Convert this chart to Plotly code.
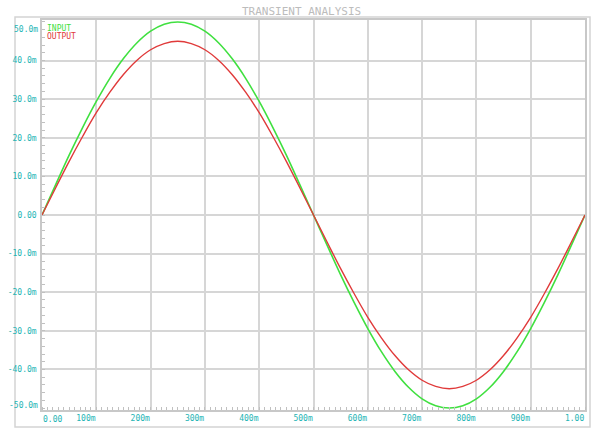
import plotly.graph_objects as go

# ---- data (time in s, voltages in mV) ----
time_s = [0.000, 0.025, 0.050, 0.075, 0.100, 0.125, 0.150, 0.175, 0.200, 0.225,
          0.250, 0.275, 0.300, 0.325, 0.350, 0.375, 0.400, 0.425, 0.450, 0.475,
          0.500, 0.525, 0.550, 0.575, 0.600, 0.625, 0.650, 0.675, 0.700, 0.725,
          0.750, 0.775, 0.800, 0.825, 0.850, 0.875, 0.900, 0.925, 0.950, 0.975, 1.000]
input_mv = [0.0, 7.8, 15.5, 22.7, 29.4, 35.4, 40.5, 44.6, 47.6, 49.4,
            50.0, 49.4, 47.6, 44.6, 40.5, 35.4, 29.4, 22.7, 15.5, 7.8,
            0.0, -7.8, -15.5, -22.7, -29.4, -35.4, -40.5, -44.6, -47.6, -49.4,
            -50.0, -49.4, -47.6, -44.6, -40.5, -35.4, -29.4, -22.7, -15.5, -7.8, 0.0]
output_mv = [0.0, 7.0, 13.9, 20.4, 26.5, 31.8, 36.4, 40.1, 42.8, 44.4,
             45.0, 44.4, 42.8, 40.1, 36.4, 31.8, 26.5, 20.4, 13.9, 7.0,
             0.0, -7.0, -13.9, -20.4, -26.5, -31.8, -36.4, -40.1, -42.8, -44.4,
             -45.0, -44.4, -42.8, -40.1, -36.4, -31.8, -26.5, -20.4, -13.9, -7.0, 0.0]

x_tick_vals = [0.1, 0.2, 0.3, 0.4, 0.5, 0.6, 0.7, 0.8, 0.9, 1.0]
x_tick_text = ["100m", "200m", "300m", "400m", "500m", "600m", "700m", "800m", "900m", "1.00"]
y_tick_vals = [-40, -30, -20, -10, 0, 10, 20, 30, 40]
y_tick_text = ["-40.0m", "-30.0m", "-20.0m", "-10.0m", "0.00", "10.0m", "20.0m", "30.0m", "40.0m"]

W, H = 595, 428
L, R, T, B = 42, 10, 20, 18
PW, PH = W - L - R, H - T - B

def px(x):
    return (x - L) / PW

def py(y):
    return (H - B - y) / PH

TEAL = "#22b4b4"
GRID = "#d6d6d6"
FONT = "DejaVu Sans Mono"

fig = go.Figure()
fig.add_trace(go.Scatter(x=time_s, y=input_mv, mode="lines", name="INPUT",
                         line=dict(color="#40e040", width=1.6, shape="spline")))
fig.add_trace(go.Scatter(x=time_s, y=output_mv, mode="lines", name="OUTPUT",
                         line=dict(color="#e03a3a", width=1.4, shape="spline")))

fig.update_layout(
    width=W, height=H,
    margin=dict(l=L, r=R, t=T, b=B, autoexpand=False),
    paper_bgcolor="white", plot_bgcolor="white",
    showlegend=False,
    font=dict(family=FONT, size=8, color=TEAL),
)
fig.update_xaxes(
    range=[0, 1.0], tickvals=x_tick_vals, ticktext=x_tick_text,
    ticklabelposition="outside left", ticks="", tickfont=dict(size=8, color=TEAL),
    showgrid=True, gridcolor=GRID, gridwidth=1.5,
    showline=True, linecolor="#c8c8c8", linewidth=1.5, mirror=True,
    zeroline=False, automargin=False,
    minor=dict(ticks="inside", dtick=0.01, ticklen=3, tickcolor="#c0c0c0", showgrid=False),
)
fig.update_yaxes(
    range=[-50.5, 50.5], tickvals=y_tick_vals, ticktext=y_tick_text,
    ticks="", tickfont=dict(size=8, color=TEAL), ticklabelstandoff=2,
    showgrid=True, gridcolor=GRID, gridwidth=1.5,
    showline=True, linecolor="#c8c8c8", linewidth=1.5, mirror=True,
    zeroline=False, automargin=False,
    minor=dict(ticks="inside", dtick=2, ticklen=3, tickcolor="#c0c0c0", showgrid=False),
)

# outer frame
fig.add_shape(type="rect", xref="paper", yref="paper",
              x0=px(15), x1=px(590), y0=py(427), y1=py(17),
              line=dict(color="#d4d4d4", width=1.5), layer="below")

ann = [
    dict(text="TRANSIENT ANALYSIS", x=px(301), y=py(11), font=dict(size=11, color="#bcbcbc", family=FONT),
         xanchor="center", yanchor="middle"),
    dict(text="INPUT", x=px(45), y=py(28), font=dict(size=8, color="#40e040", family=FONT),
         xanchor="left", yanchor="middle"),
    dict(text="OUTPUT", x=px(45), y=py(37), font=dict(size=8, color="#e03a3a", family=FONT),
         xanchor="left", yanchor="middle"),
    dict(text="50.0m", x=px(40), y=py(29), font=dict(size=8, color=TEAL, family=FONT),
         xanchor="right", yanchor="middle"),
    dict(text="-50.0m", x=px(40), y=py(405), font=dict(size=8, color=TEAL, family=FONT),
         xanchor="right", yanchor="middle"),
    dict(text="0.00", x=px(41), y=py(420), font=dict(size=8, color=TEAL, family=FONT),
         xanchor="left", yanchor="middle"),
]
for a in ann:
    fig.add_annotation(xref="paper", yref="paper", showarrow=False, **a)

fig.write_html("out.html", config={"displayModeBar": False},
               post_script="document.body.style.margin='0';document.body.style.padding='0';")
